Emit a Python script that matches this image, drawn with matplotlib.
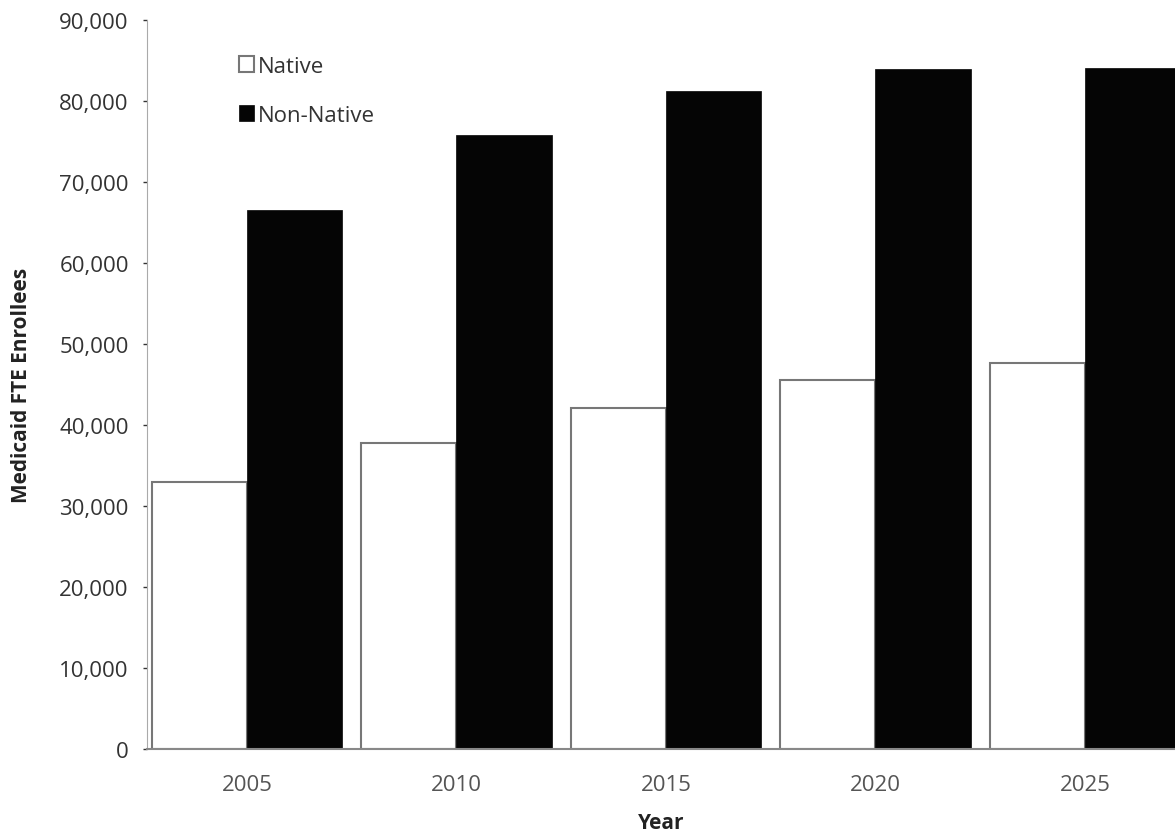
import numpy as np
import matplotlib
matplotlib.use("Agg")
import matplotlib.pyplot as plt
from matplotlib.ticker import FuncFormatter

years = ["2005", "2010", "2015", "2020", "2025"]
native = [33000, 37800, 42100, 45600, 47600]
non_native = [66500, 75800, 81200, 84000, 84100]

plt.rcParams['font.family'] = ['Open Sans', 'DejaVu Sans']

fig = plt.figure(figsize=(11.75, 8.37), dpi=100)
ax = fig.add_axes([0.125, 0.104, 0.875, 0.871])

x = np.arange(len(years))
w = 0.455
ax.bar(x - w / 2, native, w, color='white', edgecolor='#777777', linewidth=1.5, label='Native')
ax.bar(x + w / 2, non_native, w, color='#050505', edgecolor='#050505', linewidth=0.5, label='Non-Native')

ax.set_xlim(-0.478, 4.43)
ax.set_ylim(0, 90000)
ax.set_yticks(np.arange(0, 90001, 10000))
ax.yaxis.set_major_formatter(FuncFormatter(lambda v, p: f"{int(v):,}"))
ax.set_xticks(x)
ax.set_xticklabels(years)

ax.tick_params(axis='y', labelsize=16, colors='#333333', length=3, width=1, pad=10)
ax.tick_params(axis='x', labelsize=16, colors='#555555', length=0, pad=18)

for s in ['top', 'right']:
    ax.spines[s].set_visible(False)
ax.spines['left'].set_color('#aaaaaa')
ax.spines['bottom'].set_color('#888888')
ax.spines['bottom'].set_linewidth(1.5)

ax.set_ylabel('Medicaid FTE Enrollees', fontsize=15, fontweight='bold', color='#222222', labelpad=20)
ax.set_xlabel('Year', fontsize=15, fontweight='bold', color='#222222', labelpad=12)

leg = ax.legend(loc='upper left', bbox_to_anchor=(0.07, 0.978), frameon=False, fontsize=16,
                handlelength=0.7, handleheight=0.7, handletextpad=0.15, labelspacing=1.25)
for t in leg.get_texts():
    t.set_color('#333333')

fig.savefig('out.png', dpi=100)
